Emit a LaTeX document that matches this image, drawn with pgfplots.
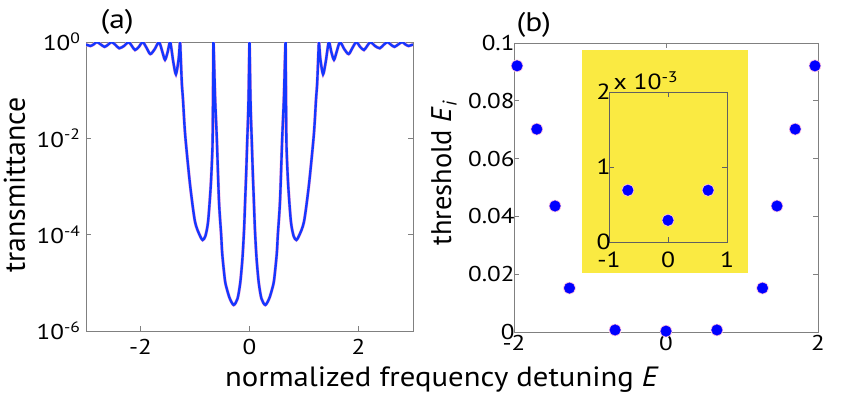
\documentclass[border=0pt]{standalone}
\usepackage{fontspec}
\setmainfont{PT Sans}
\usepackage{graphicx}
\usepackage{pgfplots}
\usepackage{pgfplotstable}
\pgfplotsset{compat=1.18}

% the source figure is stretched sideways, so horizontal text is too
\newcommand\hs[1]{\scalebox{1.17}[1]{#1}}

\definecolor{curveblue}{RGB}{20,55,255}
\definecolor{inyellow}{RGB}{250,234,66}
\definecolor{axgray}{RGB}{128,128,128}

% transmittance vs detuning
\pgfplotstableread{
E T
-3.000 0.891
-2.970 0.861
-2.920 0.826
-2.860 0.891
-2.800 1
-2.730 0.891
-2.660 0.794
-2.600 0.871
-2.530 1
-2.460 0.871
-2.390 0.741
-2.300 0.832
-2.220 1
-2.160 0.832
-2.100 0.682
-2.030 0.794
-1.960 1
-1.890 0.759
-1.820 0.562
-1.740 0.708
-1.660 1
-1.600 0.631
-1.550 0.427
-1.500 0.631
-1.455 1
-1.400 0.398
-1.350 0.214
-1.300 0.447
-1.275 1
-1.265 0.631
-1.255 0.316
-1.240 0.129
-1.220 0.063
-1.180 0.0117
-1.090 1.07e-3
-1.000 1.86e-4
-0.910 9.55e-5
-0.860 7.76e-5
-0.810 9.33e-5
-0.760 1.86e-4
-0.710 1.07e-3
-0.680 0.0063
-0.672 0.0316
-0.666 0.251
-0.662 1
-0.655 0.631
-0.645 0.251
-0.630 0.063
-0.600 0.01
-0.560 5.0e-4
-0.520 1.0e-4
-0.500 3.98e-5
-0.450 1.12e-5
-0.410 7.08e-6
-0.360 4.68e-6
-0.290 3.47e-6
-0.220 4.68e-6
-0.170 1.0e-5
-0.130 3.16e-5
-0.100 1.26e-4
-0.080 5.0e-4
-0.060 0.002
-0.040 0.01
-0.025 0.0316
-0.015 0.1
-0.008 0.316
0.000 1
0.008 0.316
0.015 0.1
0.025 0.0316
0.040 0.01
0.060 0.002
0.080 5.0e-4
0.100 1.26e-4
0.130 3.16e-5
0.170 1.0e-5
0.220 4.68e-6
0.290 3.47e-6
0.360 4.68e-6
0.410 7.08e-6
0.450 1.12e-5
0.500 3.98e-5
0.520 1.0e-4
0.560 5.0e-4
0.600 0.01
0.630 0.063
0.645 0.251
0.655 0.631
0.662 1
0.666 0.251
0.672 0.0316
0.680 0.0063
0.710 1.07e-3
0.760 1.86e-4
0.810 9.33e-5
0.860 7.76e-5
0.910 9.55e-5
1.000 1.86e-4
1.090 1.07e-3
1.180 0.0117
1.220 0.063
1.240 0.129
1.255 0.316
1.265 0.631
1.275 1
1.300 0.447
1.350 0.214
1.400 0.398
1.455 1
1.500 0.631
1.550 0.427
1.600 0.631
1.660 1
1.740 0.708
1.820 0.562
1.890 0.759
1.960 1
2.030 0.794
2.100 0.682
2.160 0.832
2.220 1
2.300 0.832
2.390 0.741
2.460 0.871
2.530 1
2.600 0.871
2.660 0.794
2.730 0.891
2.800 1
2.860 0.891
2.920 0.826
2.970 0.861
3.000 0.891
}\transdata

% thresholds, panel (b)
\pgfplotstableread{
E Ei
-1.96 0.0921
-1.70 0.0702
-1.46 0.0436
-1.27 0.0152
-0.67 0.0007
0.00 0.0003
0.67 0.0007
1.27 0.0152
1.46 0.0436
1.70 0.0702
1.96 0.0921
}\thrdata

% inset, the three lowest thresholds
\pgfplotstableread{
E Ei
-0.68 0.00069
0.00 0.00029
0.68 0.00069
}\insetdata

\begin{document}
\begin{tikzpicture}
\path[use as bounding box] (-86bp,-65bp) rectangle (770bp,331bp);

\pgfplotsset{every axis/.append style={
    scale only axis,
    axis line style={axgray, line width=0.7pt},
    tick style={axgray, line width=0.7pt},
    major tick length=5bp,
    tick align=inside,
    tick label style={font=\fontsize{21.5}{25}\selectfont},
}}

% (a)
\begin{axis}[
    at={(0bp,0bp)}, anchor=south west,
    width=327bp, height=289bp,
    xmin=-3, xmax=3,
    ymode=log, ymin=1e-6, ymax=1,
    yminorticks=false,
    xtick={-2,0,2}, xticklabels={\hs{-2},\hs{0},\hs{2}},
    xticklabel style={yshift=-5bp},
    ytick={1e-6,1e-4,1e-2,1},
    yticklabels={\hs{10\textsuperscript{-6}},\hs{10\textsuperscript{-4}},\hs{10\textsuperscript{-2}},\hs{10\textsuperscript{0}}},
    yticklabel style={xshift=-2bp},
]
\addplot[magenta!35, line width=3.2pt, no marks, smooth, tension=0.45] table {\transdata};
\addplot[curveblue, line width=2.4pt, no marks, smooth, tension=0.45] table {\transdata};
\end{axis}

\node[anchor=base west, font=\fontsize{27}{30}\selectfont] at (11bp,302bp) {\hs{(a)}};
\node[rotate=90, anchor=base, font=\fontsize{30}{34}\selectfont] at (-61bp,146bp) {transmittance};

% yellow backdrop of the inset
\fill[inyellow] (496bp,58bp) rectangle (662bp,281bp);

% (b)
\begin{axis}[
    at={(428bp,-1bp)}, anchor=south west,
    width=304bp, height=289bp,
    xmin=-2, xmax=2, ymin=0, ymax=0.1,
    clip=false,
    xtick={-2,0,2}, xticklabels={\hs{-2},\hs{0},\hs{2}},
    ytick={0,0.02,0.04,0.06,0.08,0.1},
    yticklabels={\hs{0},\hs{0.02},\hs{0.04},\hs{0.06},\hs{0.08},\hs{0.1}},
    yticklabel style={xshift=4bp},
]
\addplot[only marks, mark=*, mark size=6bp, color=magenta!25] table {\thrdata};
\addplot[only marks, mark=*, mark size=5.3bp, color=blue] table {\thrdata};
\end{axis}

\node[anchor=base west, font=\fontsize{27}{30}\selectfont] at (427bp,299bp) {\hs{(b)}};
\node[rotate=90, anchor=base, font=\fontsize{28.5}{32}\selectfont] at (365bp,158bp) {threshold \textit{E}\textsubscript{\textit{i}}};

% inset
\begin{axis}[
    at={(523bp,89bp)}, anchor=south west,
    width=118bp, height=150bp,
    xmin=-1, xmax=1, ymin=0, ymax=0.002,
    clip=false,
    axis line style={gray!75!black, line width=0.5pt},
    tick style={gray!75!black, line width=0.5pt},
    xtick={-1,0,1}, xticklabels={\hs{-1},\hs{0},\hs{1}},
    ytick={0,0.001,0.002}, yticklabels={\hs{0},\hs{1},\hs{2}},
    scaled y ticks=false,
    tick label style={font=\fontsize{22}{26}\selectfont},
    xticklabel style={yshift=-6bp},
    yticklabel style={xshift=5bp},
]
\addplot[only marks, mark=*, mark size=6bp, color=magenta!25] table {\insetdata};
\addplot[only marks, mark=*, mark size=5.3bp, color=blue] table {\insetdata};
\end{axis}
\node[anchor=base west, font=\fontsize{22}{26}\selectfont] at (524bp,241bp) {\hs{x 10\textsuperscript{-3}}};

\node[anchor=base, font=\fontsize{28}{32}\selectfont] at (356bp,-55bp) {\scalebox{1.1}[1]{normalized frequency detuning \textit{E}}};
\end{tikzpicture}
\end{document}
